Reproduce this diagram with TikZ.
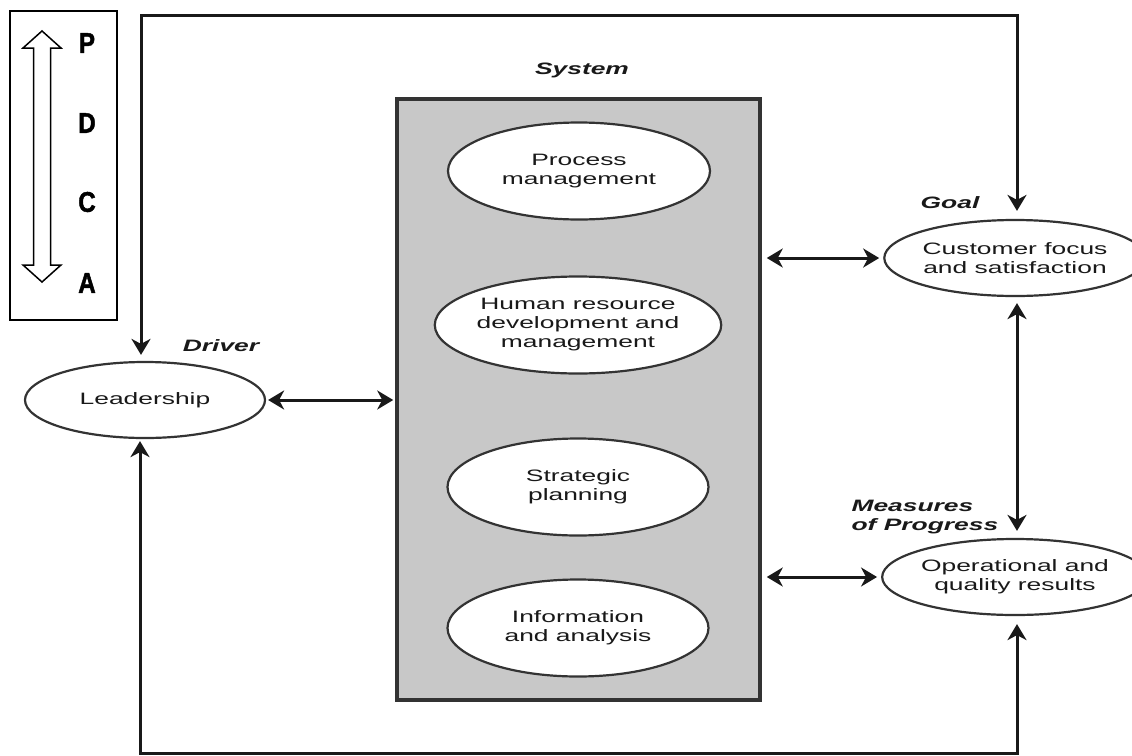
\documentclass[tikz,border=0pt]{standalone}
\usepackage{fontspec}
\usetikzlibrary{arrows.meta,shapes.geometric}
\newfontfamily\diagfont{Liberation Sans}[FakeStretch=1.6]
\newfontfamily\pdcafont{Liberation Sans Bold}[FakeStretch=0.85,FakeBold=1.5]
\definecolor{boxgray}{HTML}{C8C8C8}
\definecolor{edgegray}{HTML}{333333}
\begin{document}
\begin{tikzpicture}[x=1pt,y=-1pt,
  txt/.style={font=\diagfont\fontsize{16.5}{19}\selectfont, align=center, text=black!90},
  lab/.style={font=\diagfont\bfseries\itshape\fontsize{16.5}{19}\selectfont, text=black!90},
  oval/.style={ellipse, draw=edgegray, line width=2.2pt, fill=white, inner sep=0pt, txt},
  conn/.style={line width=3pt, black!90, {Stealth[length=16pt,width=19pt,inset=5pt]}-{Stealth[length=16pt,width=19pt,inset=5pt]}},
  pdcaletter/.style={font=\pdcafont\fontsize{28.5}{28.5}\selectfont}]
\useasboundingbox (0,0) rectangle (1132,755);

% PDCA legend
\draw[line width=2pt] (10,11) rectangle (117,320);
\draw[line width=1.5pt, fill=white]
  (42,31) -- (61,48) -- (50.5,48) -- (50.5,265) -- (61,265) -- (42,282)
  -- (23,265) -- (33.5,265) -- (33.5,48) -- (23,48) -- cycle;
\node[pdcaletter] (p) at (87,43) {P};
\node[pdcaletter] (d) at (87,123) {D};
\node[pdcaletter] (c) at (87,202) {C};
\node[pdcaletter] (a) at (87,283) {A};

% System block
\node[rectangle, draw=edgegray, line width=3.5pt, fill=boxgray,
      minimum width=363pt, minimum height=601pt, inner sep=0pt] (sys) at (578.5,399.5) {};
\node[lab] (syslab) at (582,70) {System};
\node[oval, minimum width=262pt, minimum height=97pt] (proc) at (579,171) {Process\\management};
\node[oval, minimum width=261pt, minimum height=97pt] (hr) at (578,325) {Human resource\\development and\\management};
\node[oval, minimum width=261pt, minimum height=97pt] (strat) at (578,487) {Strategic\\planning};
\node[oval, minimum width=261pt, minimum height=97pt] (info) at (578,628) {Information\\and analysis};

% Driver, goal and measures
\node[oval, minimum width=240pt, minimum height=76pt] (lead) at (145,400) {Leadership};
\node[lab] (drvlab) at (221,346) {Driver};
\node[oval, minimum width=236pt, minimum height=76pt] (cust) at (1015,258) {Customer focus\\and satisfaction};
\node[lab] (goallab) at (950,203) {Goal};
\node[oval, minimum width=236pt, minimum height=76pt] (ops) at (1015,577) {Operational and\\quality results};
\node[lab, align=left, anchor=west] (meslab) at (848,517) {Measures\\of Progress};

% Feedback loop corners
\coordinate (tl) at (141,15);
\coordinate (tr) at (1017,15);
\coordinate (bl) at (140,753);
\coordinate (br) at (1017,753);

% Connectors
\draw[conn, shorten <=2pt, shorten >=2pt] (lead.east) -- (lead.east -| sys.west);
\draw[conn, shorten <=5pt, shorten >=4pt] (sys.east |- cust.west) -- (cust.west);
\draw[conn, shorten <=5pt, shorten >=4pt] (sys.east |- ops.west) -- (ops.west);
\draw[conn, shorten <=6pt, shorten >=7pt] (cust.south -| tr) -- (ops.north -| tr);
\draw[conn, shorten <=6pt, shorten >=8pt, line join=miter]
  (lead.north -| tl) -- (tl) -- (tr) -- (cust.north -| tr);
\draw[conn, shorten <=2pt, shorten >=8pt, line join=miter]
  (lead.south -| bl) -- (bl) -- (br) -- (ops.south -| br);
\end{tikzpicture}
\end{document}
